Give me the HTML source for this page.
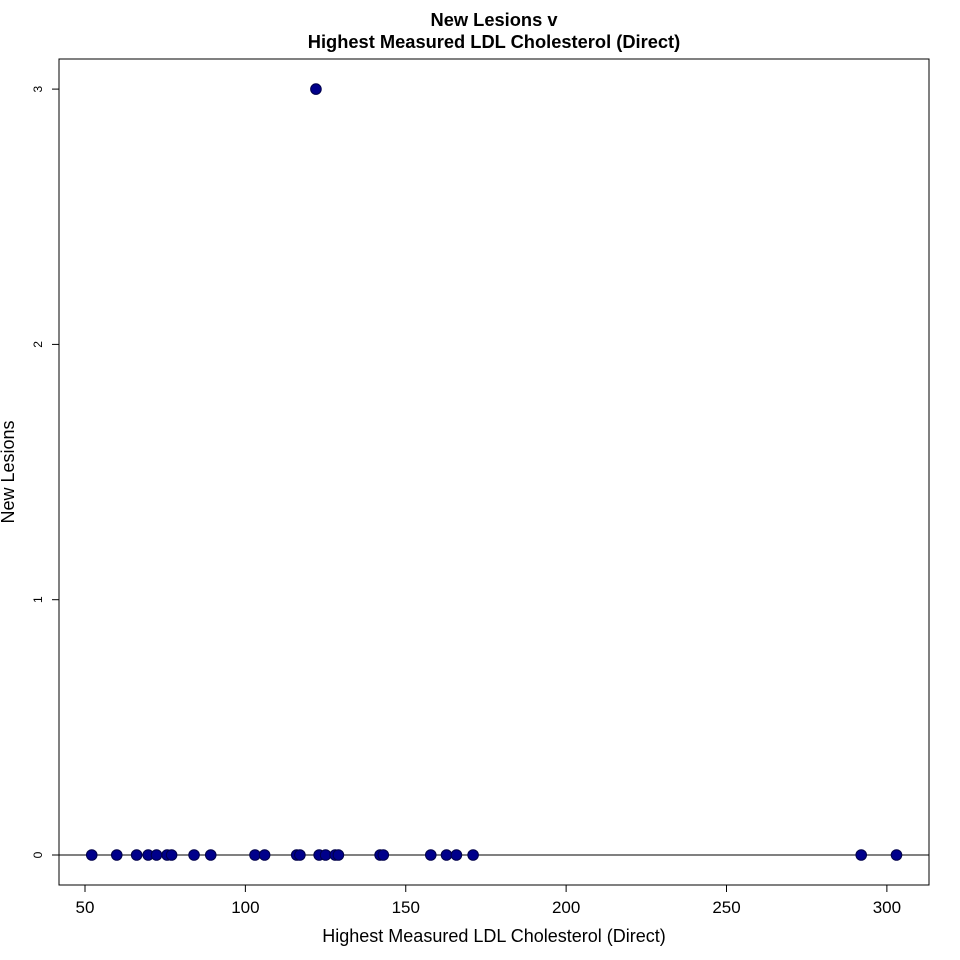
<!DOCTYPE html>
<html><head><meta charset="utf-8"><style>body{margin:0;background:#fff}svg{display:block;font-family:"Liberation Sans",Arial,sans-serif}</style></head>
<body>
<svg id="chart" width="960" height="960">
<text x="494" y="26" text-anchor="middle" font-size="18.3" font-weight="bold">New Lesions v</text>
<text x="494" y="48" text-anchor="middle" font-size="18.3" font-weight="bold">Highest Measured LDL Cholesterol (Direct)</text>
<rect x="59" y="59" width="870" height="826" fill="none" stroke="#000"/>
<text x="494" y="942" text-anchor="middle" font-size="18">Highest Measured LDL Cholesterol (Direct)</text>
<text transform="translate(14,472) rotate(-90)" text-anchor="middle" font-size="18">New Lesions</text>
<g id="axes"></g><g id="marks"></g>
</svg>
<script>
const xTicks=[50,100,150,200,250,300];
const yTicks=[0,1,2,3];
const xValues=[52.1,59.9,66.1,69.7,72.3,75.6,77,84,89.2,103,106,116,117,123,125,128,129,142,143,157.8,162.7,165.8,171,292,303,122];
const yValues=[0,0,0,0,0,0,0,0,0,0,0,0,0,0,0,0,0,0,0,0,0,0,0,0,0,3];
const NS='http://www.w3.org/2000/svg';
function xs(v){return 85+(v-50)*3.2075;}
function ys(v){return 855-v*255.3;}
function mk(t,a,p){const e=document.createElementNS(NS,t);for(const k in a)e.setAttribute(k,a[k]);p.appendChild(e);return e;}
const ax=document.getElementById('axes'),mg=document.getElementById('marks');
xTicks.forEach(t=>{
  const l=mk('line',{x1:xs(t),x2:xs(t),y1:885,y2:892,stroke:'#000'},ax);
  
  
  const tx=mk('text',{x:xs(t),y:913,'text-anchor':'middle','font-size':17},ax);tx.textContent=t;
  
  
});
yTicks.forEach(t=>{
  const l=mk('line',{x1:52,x2:59,y1:ys(t),y2:ys(t),stroke:'#000'},ax);
  
  
  const tx=mk('text',{transform:`translate(42,${ys(t)}) rotate(-90)`,'text-anchor':'middle','font-size':12},ax);tx.textContent=t;
  
  
});
const hl=mk('line',{x1:59,x2:929,y1:ys(0),y2:ys(0),stroke:'#000'},ax);


xValues.forEach((v,i)=>{
  const c=mk('circle',{cx:xs(v),cy:ys(yValues[i]),r:5.3,fill:'#00008b',stroke:'#00004a','stroke-width':1},mg);
  
  
});
</script>
</body></html>
